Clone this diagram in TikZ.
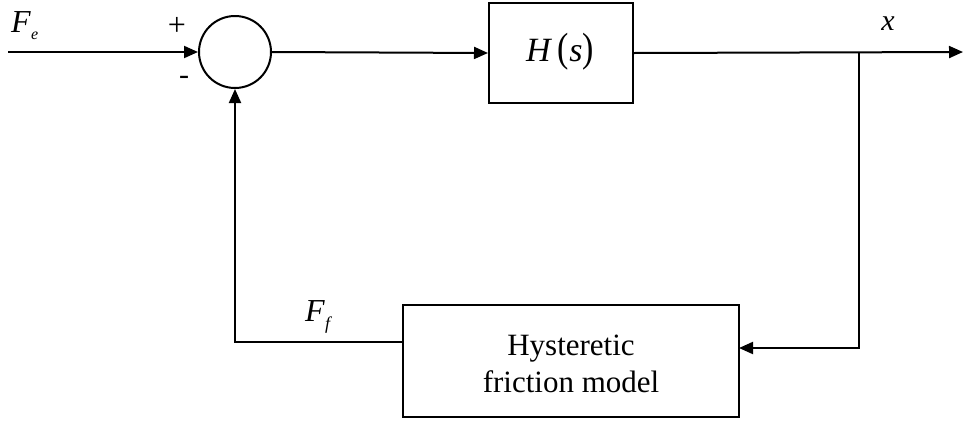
\documentclass[tikz,border=0pt]{standalone}
\usepackage{fontspec}
\setmainfont{Liberation Serif}
\usetikzlibrary{arrows.meta}
\tikzset{
  wire/.style={line width=2pt},
  arr/.style={wire,-{Triangle[length=14pt,width=12pt]}},
  blockbox/.style={draw,line width=2pt,inner sep=0pt},
  lbl/.style={inner sep=0pt}
}
\begin{document}
\begin{tikzpicture}[x=1pt,y=-1pt]
\useasboundingbox (0,0) rectangle (964,421);
% blocks
\node[blockbox,circle,minimum size=72pt] (sum) at (235,52) {};
\node[blockbox,minimum width=144pt,minimum height=100pt] (H) at (561,53) {};
\node[lbl] (Ht) at (560,52) {\fontsize{34}{34}\selectfont\textit{H}\,\scalebox{1}[1.2]{(}\textit{s}\scalebox{1}[1.2]{)}};
\node[blockbox,minimum width=336pt,minimum height=112pt] (hyst) at (571,361) {};
\node[lbl] (ht1) at (571,355) [anchor=base] {\fontsize{31}{31}\selectfont Hysteretic};
\node[lbl] (ht2) at (571,392) [anchor=base] {\fontsize{31}{31}\selectfont friction model};
% coordinates
\coordinate (in) at (8,52);
\coordinate (out) at (963,52);
\coordinate (br) at (859,52);
\coordinate (brd) at (859,348);
\coordinate (hin) at (739,348);
\coordinate (hout) at (403,342);
\coordinate (cl) at (235,342);
% connectors
\draw[arr] (in) -- (sum.west);
\draw[arr] (sum.east) -- (H.west);
\draw[arr] (H.east) -- (out);
\draw[arr] (br) -- (brd) -- (hin);
\draw[arr] (hout) -- (cl) -- (sum.south);
% labels
\node[lbl,anchor=base west] (Fe) at (11,32) {\fontsize{32}{32}\selectfont\textit{F}\raisebox{-7pt}{\fontsize{16}{16}\selectfont\textit{e}}};
\node[lbl,anchor=base west] (Ff) at (305,321) {\fontsize{32}{32}\selectfont\textit{F}\raisebox{-8pt}{\fontsize{18}{18}\selectfont\textit{f}}};
\node[lbl,anchor=base] (xl) at (888,30) {\fontsize{30}{30}\selectfont\textit{x}};
\node[lbl] (plus) at (177,26) {\fontsize{32}{32}\selectfont +};
\node[lbl] (minus) at (184,80) {\fontsize{30}{30}\selectfont -};
\end{tikzpicture}
\end{document}
